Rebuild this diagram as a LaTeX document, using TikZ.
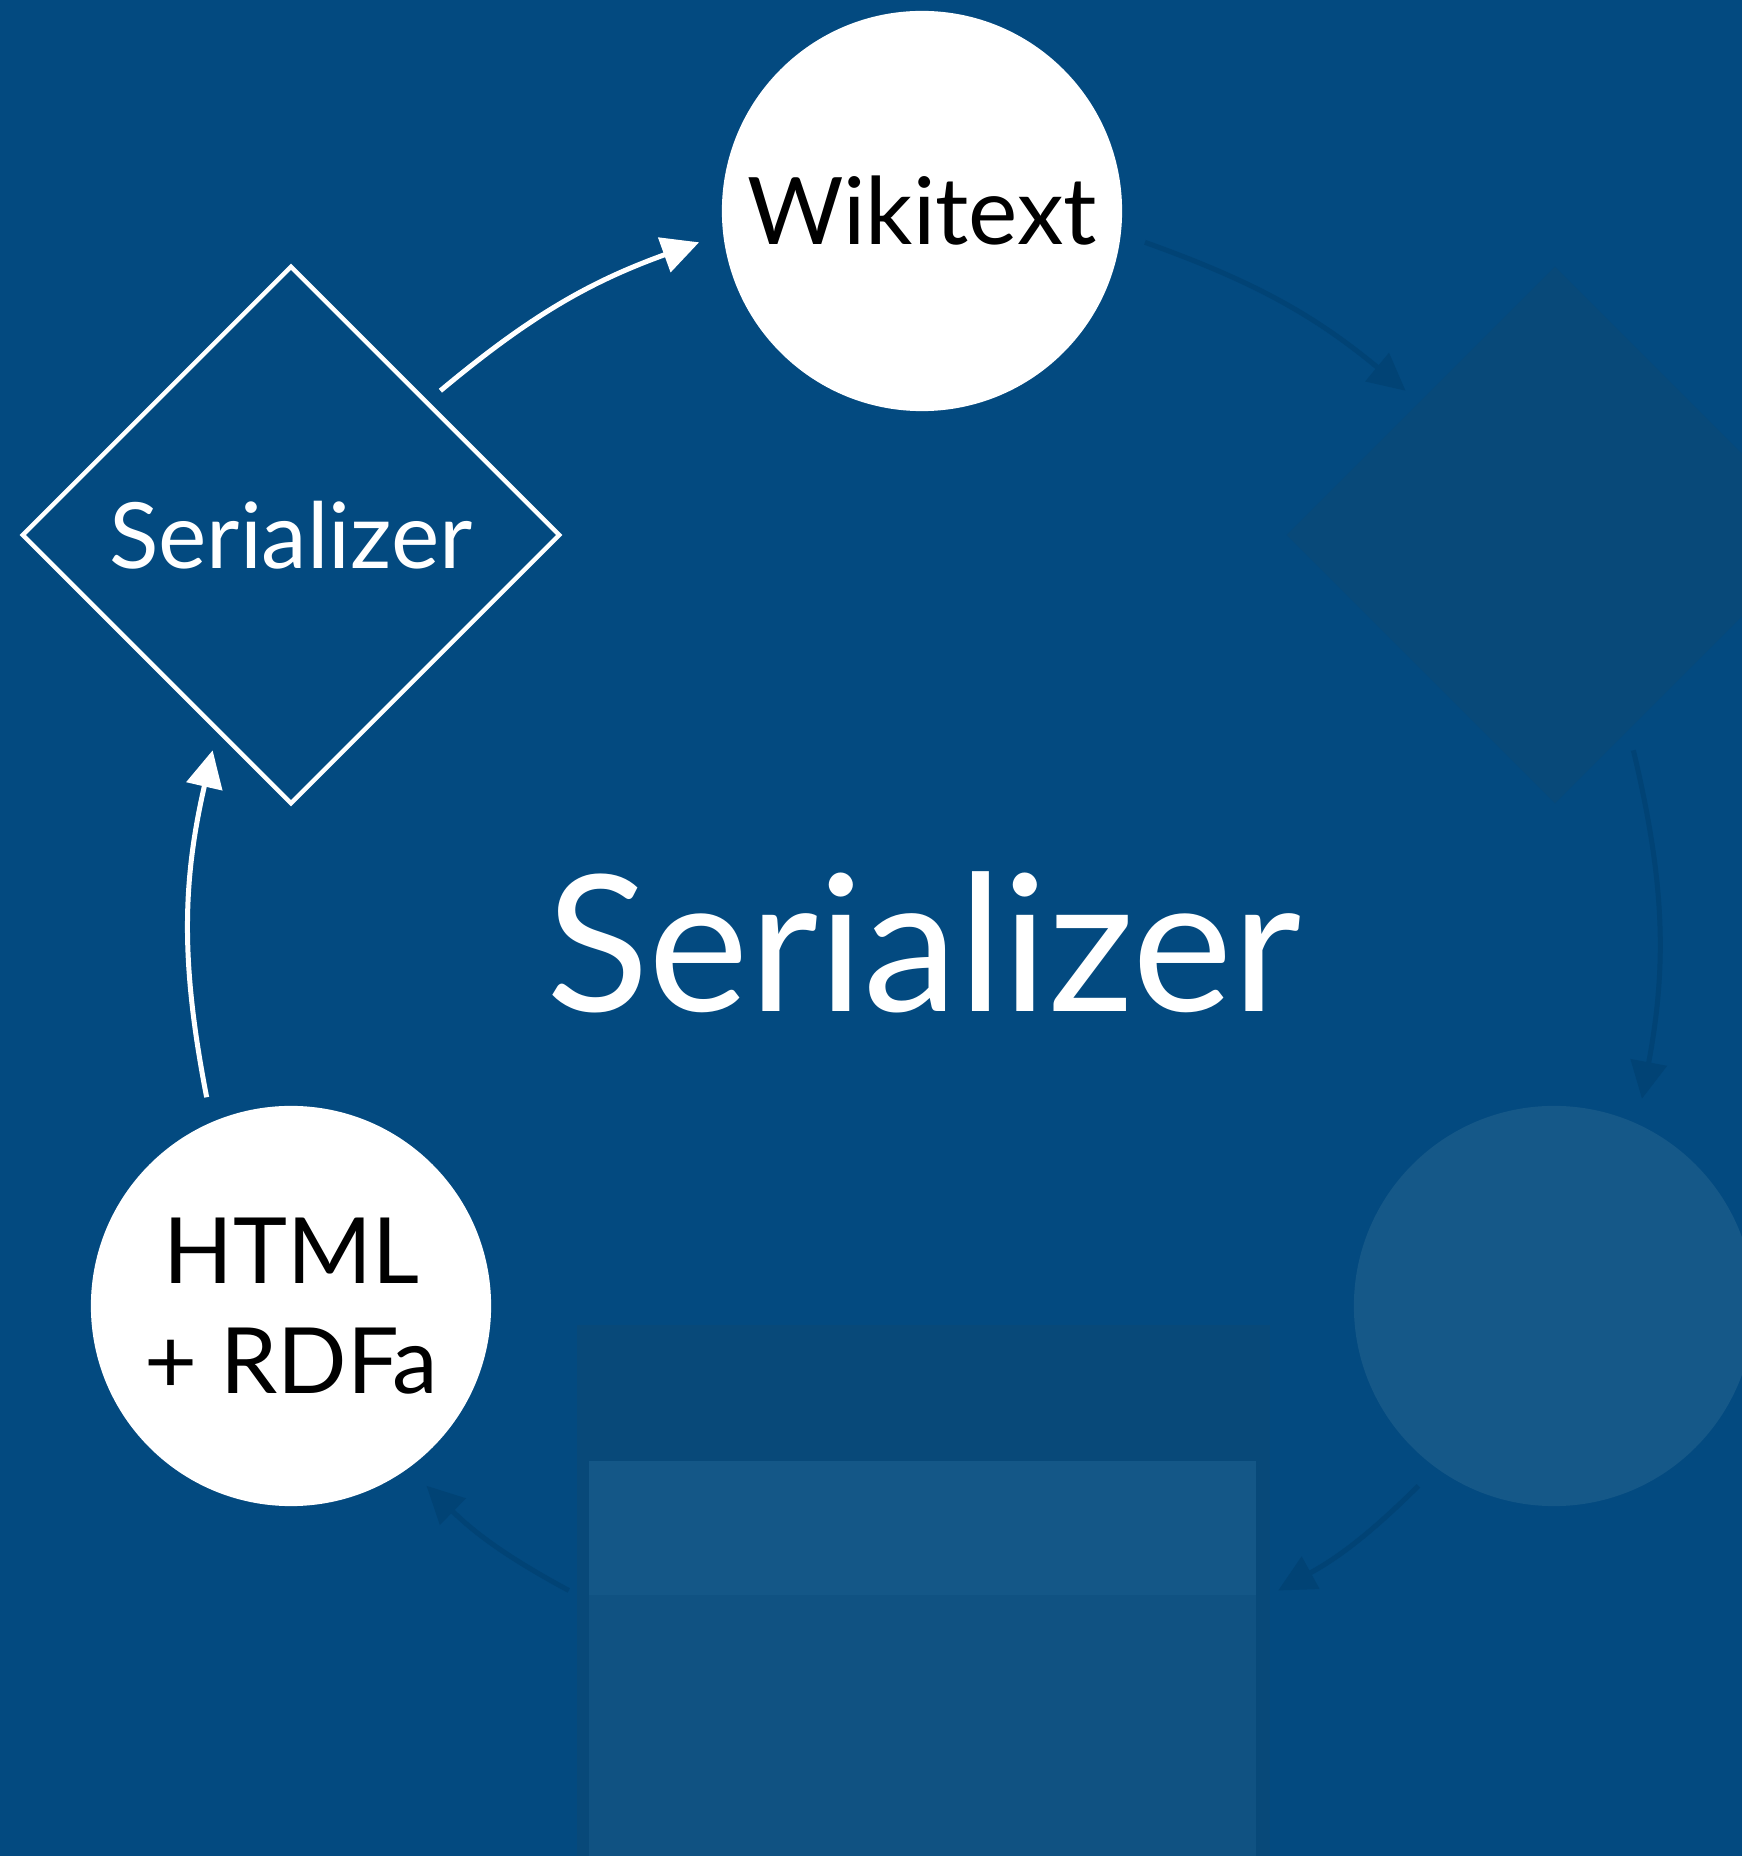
\documentclass[tikz,border=0pt]{standalone}
\usepackage{fontspec}
\setmainfont{Lato}
\usetikzlibrary{shapes.geometric,arrows.meta}
\definecolor{slidebg}{RGB}{3,74,128}
\definecolor{fadedark}{RGB}{8,73,121}
\definecolor{fadelight}{RGB}{21,88,136}
\definecolor{fadeband}{RGB}{20,87,135}
\definecolor{fadelow}{RGB}{16,82,130}
\definecolor{fadearrow}{RGB}{1,67,117}
\tikzset{
	stage/.style={circle, fill=white, inner sep=0pt, minimum size=4cm, outer sep=0.25cm, text=black},
	pass/.style={diamond, aspect=1, inner sep=0pt, minimum size=5.51cm, outer sep=0.18cm},
	flow/.style={line width=0.05cm, -{Triangle[length=0.37cm, width=0.36cm]}},
}

\begin{document}
\begin{tikzpicture}[x=0.01cm, y=0.01cm]
	%%%%% START %%%%%
	\useasboundingbox (0, 0) rectangle (1742, 1856);
	\clip (0, 0) rectangle (1742, 1856);
	\fill[slidebg] (0, 0) rectangle (1742, 1856);
	
	% faded steps
	\node[pass, fill=fadedark] (parser) at (1555, 1321) {};
	\node[stage, fill=fadelight] (dom) at (1554, 550) {};
	\node[fill=fadedark, minimum width=6.93cm, minimum height=5.31cm, inner sep=0pt, outer sep=0.08cm] (tpl) at (923.5, 265.5) {};
	\fill[fadeband] (589, 261) rectangle (1256, 395);
	\fill[fadelow] (589, 0) rectangle (1256, 261);
	
	% serializer step
	\node[pass, draw=white, line width=0.045cm, text=white, font=\fontsize{26}{32}\selectfont] (ser) at (291, 1321) {Serializer};
	\node[stage, font=\fontsize{26.5}{32}\selectfont] (wiki) at (922, 1645) {Wikitext};
	\node[stage, align=center, font=\fontsize{26}{31.3}\selectfont] (html) at (291, 550) {HTML\\+ RDFa};
	
	\node[text=white, anchor=base, font=\fontsize{54}{60}\selectfont] (title) at (924, 844) {Serializer};
	
	% arrows
	\draw[flow, white] (ser.44) to[bend left=10] (wiki.188);
	\draw[flow, white] (html.112) to[bend left=12] (ser.250);
	\draw[flow, fadearrow] (wiki.352) to[bend left=10] (parser.136);
	\draw[flow, fadearrow] (parser.290) to[bend left=12] (dom.67);
	\draw[flow, fadearrow] (dom.233) to[bend left=8] (tpl.east);
	\draw[flow, fadearrow] (tpl.west) to[bend left=8] (html.307);
	
	%%%%% END %%%%%
\end{tikzpicture}
\end{document}
